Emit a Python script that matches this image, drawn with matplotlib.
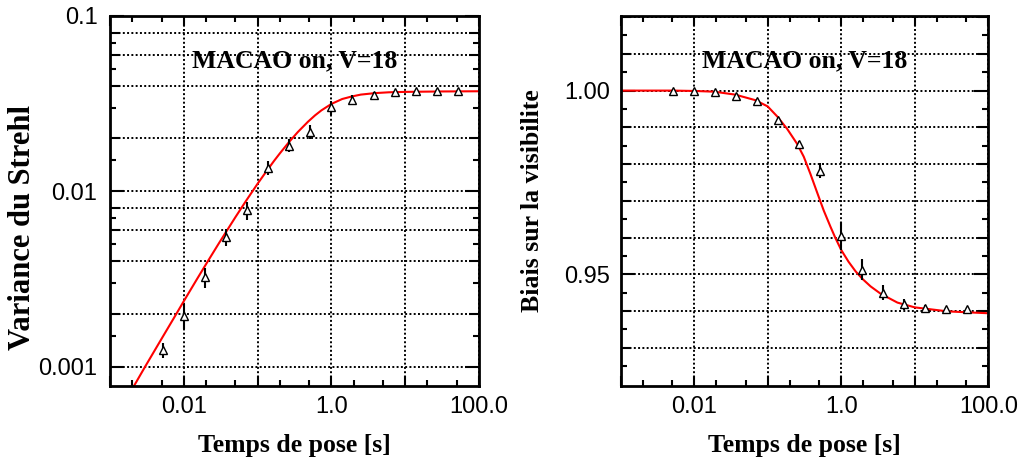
import matplotlib
matplotlib.use("Agg")
import matplotlib.pyplot as plt
import numpy as np
from matplotlib.ticker import FixedLocator, FuncFormatter, NullFormatter

# ---------------- data ----------------
t_pose = [0.0052, 0.01, 0.0193, 0.0373, 0.072, 0.139, 0.268, 0.518,
          1.0, 1.93, 3.73, 7.2, 13.9, 26.8, 51.8]

var_strehl = [0.00124, 0.00195, 0.00322, 0.00547, 0.00778, 0.0136, 0.0182,
              0.0219, 0.0301, 0.0333, 0.0356, 0.0367, 0.0371, 0.0372, 0.0372]
var_strehl_err = [0.000115, 0.00031, 0.00041, 0.00061, 0.00095, 0.0013,
                  0.00155, 0.0021, 0.0028, 0.0020, 0.0011, 0.0005, 0.0004,
                  0.0004, 0.0004]

biais_vis = [1.0000, 0.9998, 0.9996, 0.9986, 0.9973, 0.9919, 0.9854, 0.9782,
             0.9604, 0.9513, 0.9450, 0.9418, 0.9408, 0.9405, 0.9406]
biais_vis_err = [0.0002, 0.0002, 0.0003, 0.0003, 0.0004, 0.0006, 0.0008,
                 0.0020, 0.0037, 0.0028, 0.0021, 0.0014, 0.0008, 0.0005,
                 0.0005]

# fitted model curves
fit_t_strehl = [0.002, 0.003, 0.005, 0.0075, 0.01, 0.015, 0.0208, 0.03,
                0.0369, 0.05, 0.0689, 0.1, 0.13, 0.167, 0.2, 0.267, 0.35,
                0.482, 0.6, 0.731, 1.0, 1.4, 1.87, 2.5, 3.88, 6.0, 10.0,
                30.0, 100.0]
fit_var_strehl = [0.000744, 0.00100, 0.00144, 0.00192, 0.00236, 0.00314,
                  0.00394, 0.00506, 0.00581, 0.00711, 0.00875, 0.01104,
                  0.0129, 0.0149, 0.01644, 0.0191, 0.02175, 0.02494, 0.0271,
                  0.02893, 0.0315, 0.0336, 0.0347, 0.0356, 0.0363, 0.0367,
                  0.0369, 0.0371, 0.0372]

fit_t_vis = [0.001, 0.005, 0.01, 0.0187, 0.0361, 0.0677, 0.0997, 0.134,
             0.1834, 0.251, 0.309, 0.381, 0.471, 0.579, 0.715, 0.836, 1.0,
             1.258, 1.567, 1.953, 2.51, 3.44, 5.81, 10.0, 28.2, 100.0]
fit_biais_vis = [1.0000, 1.0000, 0.9999, 0.9997, 0.9989, 0.9974, 0.9957,
                 0.9930, 0.9896, 0.9855, 0.9820, 0.9773, 0.9722, 0.9673,
                 0.9629, 0.9598, 0.9566, 0.9534, 0.9508, 0.9487, 0.9467,
                 0.9447, 0.9423, 0.9410, 0.9399, 0.9394]

panel_text = "MACAO on, V=18"
xlabel_text = "Temps de pose [s]"
ylabel_left = "Variance du Strehl"
ylabel_right = "Biais sur la visibilite"

x_major = [0.001, 0.01, 0.1, 1.0, 10.0, 100.0]
x_minor = [0.002, 0.005, 0.02, 0.05, 0.2, 0.5, 2.0, 5.0, 20.0, 50.0]
x_labels = {0.01: "0.01", 1.0: "1.0", 100.0: "100.0"}

yl_major = [0.001, 0.002, 0.004, 0.006, 0.008, 0.01, 0.02, 0.04, 0.06, 0.08, 0.1]
yl_minor = [0.0015, 0.003, 0.005, 0.007, 0.015, 0.03, 0.05, 0.07]
yl_labels = {0.001: "0.001", 0.01: "0.01", 0.1: "0.1"}

yr_major = [0.93, 0.94, 0.95, 0.96, 0.97, 0.98, 0.99, 1.00, 1.01, 1.02]
yr_minor = [0.925, 0.935, 0.945, 0.955, 0.965, 0.975, 0.985, 0.995, 1.005, 1.015]
yr_labels = {0.95: "0.95", 1.00: "1.00"}

# ---------------- figure ----------------
plt.rcParams["font.family"] = ["Liberation Sans", "DejaVu Sans"]
W, H = 1023, 462
fig = plt.figure(figsize=(W / 100, H / 100), dpi=100)

def px_rect(x0, x1, y0, y1):
    return [x0 / W, 1 - y1 / H, (x1 - x0) / W, (y1 - y0) / H]

axL = fig.add_axes(px_rect(110, 479, 16, 386))
axR = fig.add_axes(px_rect(620.7, 988.3, 16, 386))

serif_bold = dict(family=["Liberation Serif", "DejaVu Serif"], weight="bold")


def make_fmt(labels):
    def f(v, p):
        for k, s in labels.items():
            if np.isclose(v, k, rtol=1e-6, atol=0):
                return s
        return ""
    return FuncFormatter(f)


def style(ax, ymaj, ymin, ylabels, long_y, ypad):
    ax.set_xscale("log")
    ax.set_xlim(0.001, 100)
    ax.xaxis.set_major_locator(FixedLocator(x_major))
    ax.xaxis.set_minor_locator(FixedLocator(x_minor))
    ax.xaxis.set_major_formatter(make_fmt(x_labels))
    ax.xaxis.set_minor_formatter(NullFormatter())
    ax.yaxis.set_major_locator(FixedLocator(ymaj))
    ax.yaxis.set_minor_locator(FixedLocator(ymin))
    ax.yaxis.set_major_formatter(make_fmt(ylabels))
    ax.yaxis.set_minor_formatter(NullFormatter())
    for s in ax.spines.values():
        s.set_linewidth(2.0)
        s.set_zorder(5)
    ax.tick_params(which="both", direction="in", top=True, right=True,
                   width=1.5, color="black", labelsize=17)
    ax.tick_params(which="major", length=7)
    ax.tick_params(which="minor", length=4)
    ax.tick_params(axis="x", which="major", pad=7)
    ax.tick_params(axis="y", which="major", pad=ypad)
    ax.grid(True, which="major", color="black", linestyle=(0, (1, 1.2)),
            linewidth=1.4, zorder=0)
    ax.set_axisbelow(True)
    # longer ticks on labelled y values
    ticks = ax.yaxis.get_major_ticks(len(ymaj))
    for tk, loc in zip(ticks, ymaj):
        if any(np.isclose(loc, v) for v in long_y):
            tk.tick1line.set_markersize(10)
            tk.tick2line.set_markersize(10)


# Left panel
axL.set_yscale("log")
axL.set_ylim(0.000774, 0.1)
axL.plot(fit_t_strehl, fit_var_strehl, color="red", lw=1.5, zorder=2)
axL.errorbar(t_pose, var_strehl, yerr=var_strehl_err, fmt="^", ms=5.5,
             mfc="white", mec="black", mew=1.0, ecolor="black",
             elinewidth=1.5, capsize=0, zorder=3)
style(axL, yl_major, yl_minor, yl_labels, [0.001, 0.01, 0.1], 9)
axL.text(0.5, 0.861, panel_text, transform=axL.transAxes, ha="center",
         va="baseline", fontsize=18.5, **serif_bold)

# Right panel
axR.set_ylim(0.9196, 1.0203)
axR.plot(fit_t_vis, fit_biais_vis, color="red", lw=1.5, zorder=2)
axR.errorbar(t_pose, biais_vis, yerr=biais_vis_err, fmt="^", ms=5.5,
             mfc="white", mec="black", mew=1.0, ecolor="black",
             elinewidth=1.5, capsize=0, zorder=3)
style(axR, yr_major, yr_minor, yr_labels, [0.95, 1.00], 7.5)
axR.text(0.5, 0.861, panel_text, transform=axR.transAxes, ha="center",
         va="baseline", fontsize=18.5, **serif_bold)

# axis labels
fig.text(294.5 / W, 1 - 451.7 / H, xlabel_text, ha="center", va="baseline",
         fontsize=18.5, **serif_bold)
fig.text(804.5 / W, 1 - 451.7 / H, xlabel_text, ha="center", va="baseline",
         fontsize=18.5, **serif_bold)
fig.text(23 / W, 1 - 227.5 / H, ylabel_left, ha="center", va="center",
         rotation=90, fontsize=22, **serif_bold)
fig.text(532.5 / W, 1 - 200.7 / H, ylabel_right, ha="center", va="center",
         rotation=90, fontsize=18.5, **serif_bold)

fig.savefig("out.png", dpi=100)
